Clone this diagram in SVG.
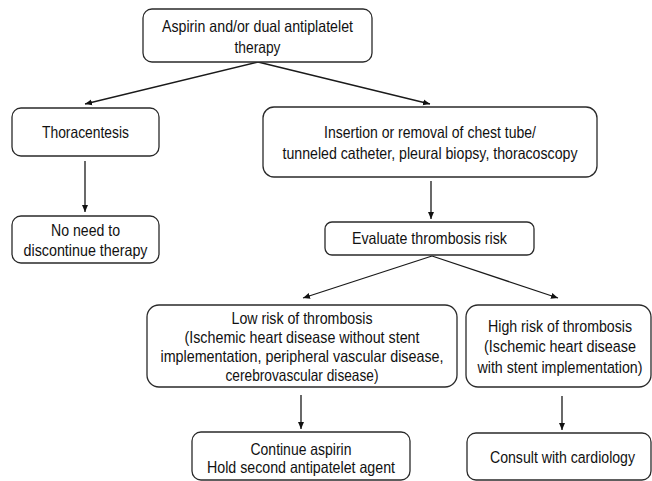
<svg xmlns="http://www.w3.org/2000/svg" width="652" height="481" viewBox="0 0 652 481">
<defs>
<marker id="ah" markerUnits="userSpaceOnUse" markerWidth="8" markerHeight="8" viewBox="0 0 8 8" refX="7" refY="4" orient="auto">
<path d="M0,1 L7,4 L0,7 z" fill="#111"/>
</marker>
<style>
.box{fill:#fff;stroke:#2a2a2a;stroke-width:1.3}
.t{font-family:"Liberation Sans",Arial,sans-serif;font-size:16.5px;fill:#111;text-anchor:middle}
.c{stroke:#1a1a1a;stroke-width:1.3;fill:none;marker-end:url(#ah)}
</style>
</defs>
<rect width="652" height="481" fill="#fff"/>
<g id="connectors">
<line class="c" x1="258" y1="62" x2="85" y2="104"/>
<line class="c" x1="258" y1="62" x2="430" y2="104"/>
<line class="c" x1="85" y1="161" x2="85" y2="212"/>
<line class="c" x1="431" y1="181" x2="431" y2="219"/>
<line class="c" x1="432" y1="256" x2="303" y2="298"/>
<line class="c" x1="432" y1="256" x2="558" y2="298"/>
<line class="c" x1="301" y1="395" x2="301" y2="429"/>
<line class="c" x1="562" y1="396" x2="562" y2="430"/>
</g>
<g id="n-aspirin">
<rect class="box" x="143" y="9" width="229" height="53" rx="9"/>
<text class="t" x="257.5" y="31.5" textLength="191" lengthAdjust="spacingAndGlyphs">Aspirin and/or dual antiplatelet</text>
<text class="t" x="257.5" y="52.5" textLength="46" lengthAdjust="spacingAndGlyphs">therapy</text>
</g>
<g id="n-thoracentesis">
<rect class="box" x="12" y="108" width="147" height="48" rx="9"/>
<text class="t" x="85.5" y="137.5" textLength="87" lengthAdjust="spacingAndGlyphs">Thoracentesis</text>
</g>
<g id="n-noneed">
<rect class="box" x="12" y="216" width="147" height="47" rx="9"/>
<text class="t" x="85.5" y="235.5" textLength="69" lengthAdjust="spacingAndGlyphs">No need to</text>
<text class="t" x="85.5" y="255.5" textLength="124" lengthAdjust="spacingAndGlyphs">discontinue therapy</text>
</g>
<g id="n-insertion">
<rect class="box" x="263" y="107" width="334" height="70" rx="11"/>
<text class="t" x="430" y="137.5" textLength="212" lengthAdjust="spacingAndGlyphs">Insertion or removal of chest tube/</text>
<text class="t" x="430" y="158.5" textLength="295" lengthAdjust="spacingAndGlyphs">tunneled catheter, pleural biopsy, thoracoscopy</text>
</g>
<g id="n-evaluate">
<rect class="box" x="325" y="222" width="209" height="33" rx="7"/>
<text class="t" x="429.5" y="243.5" textLength="155" lengthAdjust="spacingAndGlyphs">Evaluate thrombosis risk</text>
</g>
<g id="n-low">
<rect class="box" x="147" y="305" width="310" height="82" rx="12"/>
<text class="t" x="302" y="323.5" textLength="141" lengthAdjust="spacingAndGlyphs">Low risk of thrombosis</text>
<text class="t" x="302" y="343" textLength="235" lengthAdjust="spacingAndGlyphs">(Ischemic heart disease without stent</text>
<text class="t" x="302" y="362" textLength="283" lengthAdjust="spacingAndGlyphs">implementation, peripheral vascular disease,</text>
<text class="t" x="302" y="381" textLength="153" lengthAdjust="spacingAndGlyphs">cerebrovascular disease)</text>
</g>
<g id="n-high">
<rect class="box" x="466" y="305" width="185" height="82" rx="12"/>
<g transform="translate(560,0) scale(0.85,1)">
<text class="t" x="0" y="332.5" textLength="169.4" lengthAdjust="spacingAndGlyphs">High risk of thrombosis</text>
<text class="t" x="0" y="352.5" textLength="178.8" lengthAdjust="spacingAndGlyphs">(Ischemic heart disease</text>
<text class="t" x="0" y="373" textLength="194.1" lengthAdjust="spacingAndGlyphs">with stent implementation)</text>
</g>
</g>
<g id="n-continue">
<rect class="box" x="192" y="432" width="218" height="48" rx="9"/>
<text class="t" x="301" y="454.5" textLength="101" lengthAdjust="spacingAndGlyphs">Continue aspirin</text>
<text class="t" x="301" y="472.5" textLength="188" lengthAdjust="spacingAndGlyphs">Hold second antipatelet agent</text>
</g>
<g id="n-consult">
<rect class="box" x="467" y="433" width="184" height="47" rx="9"/>
<g transform="translate(562.5,0) scale(0.85,1)">
<text class="t" x="0" y="463.5" textLength="170.6" lengthAdjust="spacingAndGlyphs">Consult with cardiology</text>
</g>
</g>
</svg>
